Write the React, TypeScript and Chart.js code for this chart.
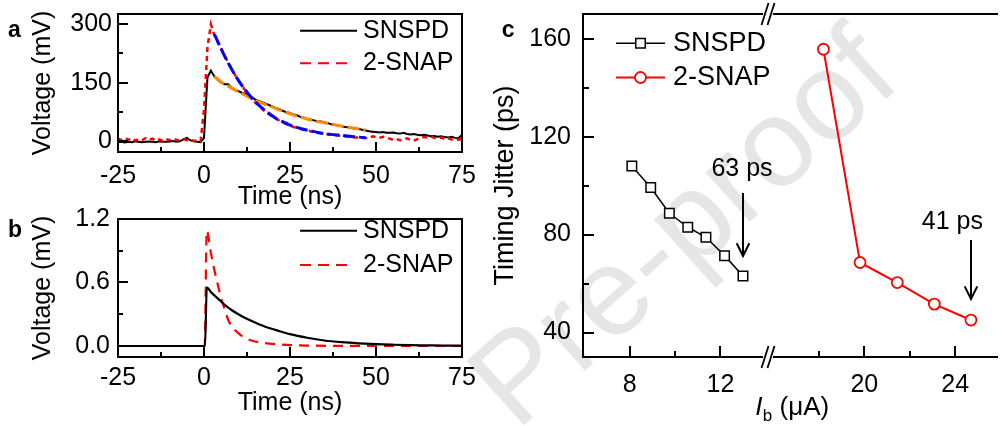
import React, { useEffect, useRef } from "react";
import { Chart, registerables } from "chart.js";

Chart.register(...registerables);

const FONT = '"Liberation Sans", Arial, Helvetica, sans-serif';

// ---------------- shared text ----------------
const SERIES_NAMES = ["SNSPD", "2-SNAP"];
const TIME_TITLE = "Time (ns)";
const VOLT_TITLE = "Voltage (mV)";
const JITTER_TITLE = "Timing Jitter (ps)";
const IB_TITLE_PARTS = ["I", "b", " (\u03bcA)"];
const WATERMARK = "Pre-proof";
const PANEL_LABELS = ["a", "b", "c"];

// ---------------- panel a (measured traces, mV) ----------------
const timeA = [
  -25, -24, -23, -22, -21, -20, -19, -18, -17, -16, -15, -14, -13, -12, -11, -10, -9, -8, -7, -6, -5, -4, -3, -2, -1,
  0, 1, 2, 3, 4, 5, 6, 7, 8, 9, 10,
  11, 12, 13, 14, 15, 16, 17, 18, 19, 20,
  21, 22, 23, 24, 25, 26, 27, 28, 29, 30,
  31, 32, 33, 34, 35, 36, 37, 38, 39, 40,
  41, 42, 43, 44, 45, 46, 47, 48, 49, 50,
  51, 52, 53, 54, 55, 56, 57, 58, 59, 60,
  61, 62, 63, 64, 65, 66, 67, 68, 69, 70,
  71, 72, 73, 74, 75,
];
const snspdA = [
  -3, -2, -4, -2, -3, -1, -2, -3, -2, -1, -2, -3, -1, -2, -2, -1, 0, -2, -1, 4, 8, 2, -1, -2, -3,
  8, 163, 181, 166, 157, 150, 146, 146, 137, 132, 128,
  124, 121, 117, 112, 106, 103, 99, 96, 92, 88,
  84, 82, 77, 74, 72, 68, 66, 62, 60, 57,
  55, 53, 51, 50, 48, 46, 43, 42, 40, 38,
  36, 35, 33, 32, 31, 29, 27, 25, 24, 23,
  22, 23, 21, 21, 22, 20, 19, 21, 18, 17,
  18, 16, 15, 16, 14, 12, 13, 11, 12, 10,
  9, 11, 8, 7, 16,
];
const snapA = [
  6, 2, 8, 3, 7, 1, 5, 2, 7, 3, 6, 1, 4, 0, 5, 2, 6, 3, 1, 5, 2, 4, 0, 2, -1,
  80, 240, 300, 272, 255, 238, 220, 202, 186, 170, 156,
  143, 130, 119, 108, 98, 90, 82, 74, 68, 62,
  57, 52, 47, 43, 40, 36, 34, 31, 29, 27,
  25, 23, 22, 20, 19, 17, 16, 15, 14, 13,
  12, 11, 10, 9, 9, 8, 8, 7, 12, 10,
  8, 11, 9, 6, 3, 5, 2, 4, 7, 3,
  1, 5, 8, 10, 9, 11, 8, 6, 9, 5,
  7, 4, 6, 3, 5,
];
const fitTimeA = [3, 5, 7, 9, 11, 13, 15, 17, 19, 21, 23, 25, 27, 29, 31, 33, 35, 37, 39, 41, 43, 45, 47];
const fitSnspdA = [166, 152, 141, 131, 122, 113, 105, 97, 90, 83, 76, 70, 64, 59, 54, 50, 47, 43, 40, 37, 34, 31, 28];
const fitSnapA = [275, 236, 201, 170, 143, 120, 100, 84, 70, 58, 49, 41, 35, 30, 26, 22, 19, 17, 15.5, 13.5, 11.5, 10, 8.5];

const xTicksAB = [-25, 0, 25, 50, 75];
const xTickLabelsAB = ["-25", "0", "25", "50", "75"];
const xMinorAB = [-12.5, 12.5, 37.5, 62.5];
const yTicksA = [0, 150, 300];
const yTickLabelsA = ["0", "150", "300"];
const yMinorA = [75, 225];

// ---------------- panel b (simulated, mV) ----------------
const timeBSnspd = [-25, 0.3, 0.8, 2, 4, 6, 8, 10, 12, 15, 18, 21, 25, 30, 35, 40, 45, 50, 55, 60, 65, 70, 75];
const snspdB = [0, 0, 0.555, 0.51, 0.45, 0.39, 0.34, 0.3, 0.265, 0.22, 0.18, 0.15, 0.112, 0.078, 0.052, 0.036, 0.025, 0.017, 0.012, 0.008, 0.006, 0.004, 0.003];
const timeBSnap = [-25, 0.2, 0.8, 2, 3, 4, 5, 6, 7, 8, 10, 12, 14, 16, 19, 22, 26, 30, 40, 50, 75];
const snapB = [0, 0, 1.09, 0.88, 0.72, 0.58, 0.45, 0.35, 0.25, 0.19, 0.12, 0.075, 0.05, 0.035, 0.022, 0.014, 0.008, 0.004, 0.001, 0, 0];
const yTicksB = [0, 0.6, 1.2];
const yTickLabelsB = ["0.0", "0.6", "1.2"];
const yMinorB = [0.3, 0.9];

// ---------------- panel c (timing jitter) ----------------
const ibSnspd = [8.1, 8.93, 9.75, 10.56, 11.36, 12.18, 12.99];
const jitterSnspd = [108.0, 99.2, 88.7, 83.0, 78.9, 71.4, 63.1];
const ibSnap = [18.2, 19.81, 21.45, 23.08, 24.69];
const jitterSnap = [155.7, 68.6, 60.4, 51.6, 45.1];
const annotationLabels = ["63 ps", "41 ps"];
const xTicksC = [8, 12, 20, 24];
const xMinorC = [10, 18, 22];
const yTicksC = [40, 80, 120, 160];
const yMinorC = [60, 100, 140];

// broken x axis: values above BREAK_AT are shifted left by BREAK_SHIFT
const BREAK_AT = 15;
const BREAK_SHIFT = 1.67;
const BREAK_DISPLAY = 14.08;
const toDisplayIb = (v: number) => (v > BREAK_AT ? v - BREAK_SHIFT : v);

// ---------------- style ----------------
const BLACK = "#000000";
const RED = "#ff0000";
const BLUE = "#0000ff";
const ORANGE = "#ff8c00";
const C_LEFT = 440;
const B_TOP = 200;

function pts(xs: number[], ys: number[], mapX: (v: number) => number = (v) => v) {
  return xs.map((x, i) => ({ x: mapX(x), y: ys[i] }));
}

function axis(o: {
  horizontal: boolean;
  min: number;
  max: number;
  ticks: number[];
  labels: string[];
  size: number;
  padding: number;
  title?: string;
  titleSize?: number;
  titlePad?: number;
}) {
  return {
    type: "linear",
    position: o.horizontal ? "bottom" : "left",
    min: o.min,
    max: o.max,
    grid: { display: false, drawTicks: false },
    border: { display: false },
    ticks: {
      color: "#000",
      font: { family: FONT, size: 25 },
      padding: o.padding,
      maxRotation: 0,
      minRotation: 0,
      autoSkip: false,
      callback: (_v: any, i: number) => o.labels[i],
    },
    afterBuildTicks: (s: any) => {
      s.ticks = o.ticks.map((v) => ({ value: v }));
    },
    afterFit: (s: any) => {
      if (o.horizontal) s.height = o.size;
      else s.width = o.size;
      s.paddingTop = 0;
      s.paddingBottom = 0;
      s.paddingLeft = 0;
      s.paddingRight = 0;
    },
    title: o.title
      ? {
          display: true,
          text: o.title,
          color: "#000",
          font: { family: FONT, size: o.titleSize ?? 25 },
          padding: o.horizontal ? { top: 0, bottom: o.titlePad ?? 0 } : { top: o.titlePad ?? 0, bottom: 0 },
        }
      : { display: false },
  };
}

function baseOptions(padding: any, x: any, y: any) {
  return {
    responsive: false,
    maintainAspectRatio: false,
    animation: false,
    devicePixelRatio: 1,
    events: [],
    layout: { padding },
    plugins: { legend: { display: false }, tooltip: { enabled: false }, title: { display: false } },
    elements: { point: { radius: 0 }, line: { tension: 0, fill: false } },
    scales: { x, y },
  };
}

type FrameSpec = {
  box: boolean;
  xMajor: number[];
  xMinor: number[];
  yMajor: number[];
  yMinor: number[];
  major: number;
  minor: number;
  breakX?: number;
};

function drawFrame(chart: any, f: FrameSpec) {
  const { ctx, chartArea } = chart;
  const xs = chart.scales.x;
  const ys = chart.scales.y;
  const L = Math.round(chartArea.left);
  const R = Math.round(chartArea.right);
  const T = Math.round(chartArea.top);
  const B = Math.round(chartArea.bottom);
  ctx.save();
  ctx.strokeStyle = "#000";
  ctx.lineWidth = 2;
  ctx.setLineDash([]);
  const seg = (x1: number, y1: number, x2: number, y2: number) => {
    ctx.beginPath();
    ctx.moveTo(x1, y1);
    ctx.lineTo(x2, y2);
    ctx.stroke();
  };
  if (f.box) {
    ctx.strokeRect(L, T, R - L, B - T);
  } else {
    ctx.lineCap = "square";
    seg(L, T, L, B);
    const bx = Math.round(xs.getPixelForValue(f.breakX as number));
    for (const yy of [T, B]) {
      seg(L, yy, bx - 6, yy);
      seg(bx + 6, yy, R + 2, yy);
    }
    ctx.lineCap = "butt";
    ctx.lineWidth = 1.8;
    for (const yy of [T, B]) for (const d of [-3, 3]) seg(bx + d - 3.5, yy + 11, bx + d + 3.5, yy - 11);
    ctx.lineWidth = 2;
  }
  ctx.lineCap = "butt";
  for (const v of f.xMajor) {
    const p = Math.round(xs.getPixelForValue(v));
    seg(p, B, p, B - f.major);
  }
  for (const v of f.xMinor) {
    const p = Math.round(xs.getPixelForValue(v));
    seg(p, B, p, B - f.minor);
  }
  for (const v of f.yMajor) {
    const p = Math.round(ys.getPixelForValue(v));
    seg(L, p, L + f.major, p);
  }
  for (const v of f.yMinor) {
    const p = Math.round(ys.getPixelForValue(v));
    seg(L, p, L + f.minor, p);
  }
  ctx.restore();
}

function drawText(ctx: any, text: string, x: number, y: number, font: string, align = "left", baseline = "middle") {
  ctx.save();
  ctx.fillStyle = "#000";
  ctx.font = font;
  ctx.textAlign = align;
  ctx.textBaseline = baseline;
  ctx.fillText(text, x, y);
  ctx.restore();
}

function drawLineLegend(ctx: any, rows: { y: number; color: string; dash: number[]; width: number; end: number }[], x0: number, tx: number) {
  rows.forEach((r, i) => {
    ctx.save();
    ctx.strokeStyle = r.color;
    ctx.lineWidth = r.width;
    ctx.setLineDash(r.dash);
    ctx.beginPath();
    ctx.moveTo(x0, r.y);
    ctx.lineTo(r.end, r.y);
    ctx.stroke();
    ctx.restore();
    drawText(ctx, SERIES_NAMES[i], tx, r.y, `25px ${FONT}`);
  });
}

function drawMarker(ctx: any, kind: string, x: number, y: number, r: number, color: string, lw: number) {
  ctx.save();
  ctx.setLineDash([]);
  ctx.fillStyle = "#fff";
  ctx.strokeStyle = color;
  ctx.lineWidth = lw;
  ctx.beginPath();
  if (kind === "rect") {
    const s = Math.SQRT1_2 * r;
    ctx.rect(x - s, y - s, 2 * s, 2 * s);
  } else {
    ctx.arc(x, y, r, 0, Math.PI * 2);
  }
  ctx.fill();
  ctx.stroke();
  ctx.restore();
}

// ---------------- chart configs ----------------
function makeA(): any {
  return {
    type: "line",
    data: {
      datasets: [
        { data: pts(fitTimeA, fitSnapA), borderColor: BLUE, borderWidth: 3, borderDash: [12, 4], cubicInterpolationMode: "monotone" },
        { data: pts(fitTimeA, fitSnspdA), borderColor: ORANGE, borderWidth: 3, borderDash: [12, 4], cubicInterpolationMode: "monotone" },
        { label: SERIES_NAMES[1], data: pts(timeA, snapA), borderColor: RED, borderWidth: 2.5, borderDash: [5, 4] },
        { label: SERIES_NAMES[0], data: pts(timeA, snspdA), borderColor: BLACK, borderWidth: 2 },
      ],
    },
    options: baseOptions(
      { left: 0, top: 14, right: 18, bottom: 0 },
      axis({ horizontal: true, min: -25, max: 75, ticks: xTicksAB, labels: xTickLabelsAB, size: 60, padding: 9, title: TIME_TITLE, titlePad: 0 }),
      axis({ horizontal: false, min: -28.3, max: 326.5, ticks: yTicksA, labels: yTickLabelsA, size: 118, padding: 6, title: VOLT_TITLE, titlePad: 28 })
    ),
    plugins: [
      {
        id: "decorA",
        afterDraw(chart: any) {
          drawFrame(chart, { box: true, xMajor: xTicksAB, xMinor: xMinorAB, yMajor: yTicksA, yMinor: yMinorA, major: 10, minor: 5 });
          drawLineLegend(
            chart.ctx,
            [
              { y: 30.7, color: BLACK, dash: [], width: 2, end: 357 },
              { y: 63.3, color: RED, dash: [11, 7], width: 2, end: 347 },
            ],
            300,
            363
          );
          drawText(chart.ctx, PANEL_LABELS[0], 8, 36.7, `bold 23px ${FONT}`, "left", "alphabetic");
        },
      },
    ],
  };
}

function makeB(): any {
  return {
    type: "line",
    data: {
      datasets: [
        { label: SERIES_NAMES[0], data: pts(timeBSnspd, snspdB), borderColor: BLACK, borderWidth: 2.2, cubicInterpolationMode: "monotone" },
        { label: SERIES_NAMES[1], data: pts(timeBSnap, snapB), borderColor: RED, borderWidth: 2.2, borderDash: [10, 7], cubicInterpolationMode: "monotone" },
      ],
    },
    options: baseOptions(
      { left: 0, top: 19, right: 18, bottom: 0 },
      axis({ horizontal: true, min: -25, max: 75, ticks: xTicksAB, labels: xTickLabelsAB, size: 69, padding: 6, title: TIME_TITLE, titlePad: 8 }),
      axis({ horizontal: false, min: -0.104, max: 1.2, ticks: yTicksB, labels: yTickLabelsB, size: 118, padding: 8, title: VOLT_TITLE, titlePad: 28 })
    ),
    plugins: [
      {
        id: "decorB",
        afterDraw(chart: any) {
          drawFrame(chart, { box: true, xMajor: xTicksAB, xMinor: xMinorAB, yMajor: yTicksB, yMinor: yMinorB, major: 10, minor: 5 });
          drawLineLegend(
            chart.ctx,
            [
              { y: 230.7 - B_TOP, color: BLACK, dash: [], width: 2, end: 357 },
              { y: 265 - B_TOP, color: RED, dash: [11, 7], width: 2, end: 347 },
            ],
            300,
            363
          );
          drawText(chart.ctx, PANEL_LABELS[1], 8, 236.7 - B_TOP, `bold 23px ${FONT}`, "left", "alphabetic");
        },
      },
    ],
  };
}

function makeC(): any {
  const snapPts = pts(ibSnap, jitterSnap, toDisplayIb);
  const snspdPts = pts(ibSnspd, jitterSnspd, toDisplayIb);
  return {
    type: "line",
    data: {
      datasets: [
        {
          label: SERIES_NAMES[1],
          data: snapPts,
          borderColor: RED,
          borderWidth: 2,
          pointStyle: "circle",
          pointRadius: 5.5,
          pointBorderWidth: 1.8,
          pointBorderColor: RED,
          pointBackgroundColor: "#ffffff",
        },
        {
          label: SERIES_NAMES[0],
          data: snspdPts,
          borderColor: BLACK,
          borderWidth: 1.5,
          pointStyle: "rect",
          pointRadius: 6.7,
          pointBorderWidth: 1.5,
          pointBorderColor: BLACK,
          pointBackgroundColor: "#ffffff",
        },
      ],
    },
    options: baseOptions(
      { left: 30, top: 14, right: 0, bottom: 0 },
      axis({ horizontal: true, min: 5.95, max: 24.07, ticks: xTicksC.map(toDisplayIb), labels: xTicksC.map(String), size: 69, padding: 13 }),
      axis({ horizontal: false, min: 30, max: 170.1, ticks: yTicksC, labels: yTicksC.map(String), size: 113, padding: 12, title: JITTER_TITLE, titleSize: 27, titlePad: 19 })
    ),
    plugins: [
      {
        id: "decorC",
        beforeDraw(chart: any) {
          const ctx = chart.ctx;
          ctx.save();
          ctx.translate(687 - C_LEFT, 232);
          ctx.rotate((-42 * Math.PI) / 180);
          ctx.font = `125px ${FONT}`;
          ctx.fillStyle = "#e6e6e6";
          ctx.textAlign = "center";
          ctx.textBaseline = "middle";
          ctx.fillText(WATERMARK, 0, 0);
          ctx.restore();
        },
        afterDraw(chart: any) {
          const ctx = chart.ctx;
          const xs = chart.scales.x;
          const ys = chart.scales.y;
          drawFrame(chart, {
            box: false,
            breakX: BREAK_DISPLAY,
            xMajor: xTicksC.map(toDisplayIb),
            xMinor: xMinorC.map(toDisplayIb),
            yMajor: yTicksC,
            yMinor: yMinorC,
            major: 11,
            minor: 6,
          });
          // legend
          const lx0 = 616 - C_LEFT;
          const lx1 = 665 - C_LEFT;
          const legendRows = [
            { y: 43.3, color: BLACK, kind: "rect", r: 6.7, lw: 1.5, w: 1.5 },
            { y: 77.5, color: RED, kind: "circle", r: 5.5, lw: 1.8, w: 2 },
          ];
          legendRows.forEach((row, i) => {
            ctx.save();
            ctx.strokeStyle = row.color;
            ctx.lineWidth = row.w;
            ctx.beginPath();
            ctx.moveTo(lx0, row.y);
            ctx.lineTo(lx1, row.y);
            ctx.stroke();
            ctx.restore();
            drawMarker(ctx, row.kind, (lx0 + lx1) / 2, row.y, row.r, row.color, row.lw);
            drawText(ctx, SERIES_NAMES[i], 673 - C_LEFT, row.y, `27px ${FONT}`);
          });
          // annotations with arrows at the last point of each series
          const lastPts = [snspdPts[snspdPts.length - 1], snapPts[snapPts.length - 1]];
          const annStyle = [
            { textDx: -1, textDy: -107, tailDy: -83, tipDy: -20 },
            { textDx: -18.6, textDy: -98, tailDy: -80, tipDy: -21 },
          ];
          lastPts.forEach((p, i) => {
            const px = xs.getPixelForValue(p.x);
            const py = ys.getPixelForValue(p.y);
            const st = annStyle[i];
            const ax = Math.round(px);
            const tip = py + st.tipDy;
            ctx.save();
            ctx.strokeStyle = "#000";
            ctx.lineWidth = 2;
            ctx.beginPath();
            ctx.moveTo(ax, py + st.tailDy);
            ctx.lineTo(ax, tip);
            ctx.stroke();
            ctx.beginPath();
            ctx.moveTo(ax - 6.3, tip - 12.7);
            ctx.lineTo(ax, tip);
            ctx.lineTo(ax + 6.3, tip - 12.7);
            ctx.stroke();
            ctx.restore();
            drawText(ctx, annotationLabels[i], px + st.textDx, py + st.textDy, `25px ${FONT}`, "center");
          });
          // x-axis title: italic I, subscript b, (μA)
          const a = chart.chartArea;
          const fIt = `italic 26px ${FONT}`;
          const fSub = `17px ${FONT}`;
          const fMain = `26px ${FONT}`;
          ctx.save();
          ctx.font = fIt;
          const w0 = ctx.measureText(IB_TITLE_PARTS[0]).width;
          ctx.font = fSub;
          const w1 = ctx.measureText(IB_TITLE_PARTS[1]).width;
          ctx.font = fMain;
          const w2 = ctx.measureText(IB_TITLE_PARTS[2]).width;
          ctx.restore();
          let tx = (a.left + a.right) / 2 + 3 - (w0 + w1 + w2) / 2;
          const base = 415;
          drawText(ctx, IB_TITLE_PARTS[0], tx, base, fIt, "left", "alphabetic");
          tx += w0 + 0.5;
          drawText(ctx, IB_TITLE_PARTS[1], tx, base + 6, fSub, "left", "alphabetic");
          tx += w1;
          drawText(ctx, IB_TITLE_PARTS[2], tx, base, fMain, "left", "alphabetic");
          // panel label
          drawText(ctx, PANEL_LABELS[2], 501.7 - C_LEFT, 36.7, `bold 23px ${FONT}`, "left", "alphabetic");
        },
      },
    ],
  };
}

function ChartBox({ make, left, top, width, height }: { make: () => any; left: number; top: number; width: number; height: number }) {
  const ref = useRef<HTMLCanvasElement | null>(null);
  useEffect(() => {
    if (!ref.current) return;
    const chart = new Chart(ref.current, make());
    return () => chart.destroy();
  }, [make]);
  return (
    <canvas
      ref={ref}
      width={width}
      height={height}
      style={{ position: "absolute", left, top, width, height, display: "block" }}
    />
  );
}

export default function App() {
  return (
    <div style={{ position: "absolute", left: 0, top: 0, width: 1003, height: 426, background: "#ffffff", overflow: "hidden" }}>
      <ChartBox make={makeC} left={C_LEFT} top={0} width={1003 - C_LEFT} height={426} />
      <ChartBox make={makeA} left={0} top={0} width={480} height={212} />
      <ChartBox make={makeB} left={0} top={B_TOP} width={480} height={226} />
    </div>
  );
}
